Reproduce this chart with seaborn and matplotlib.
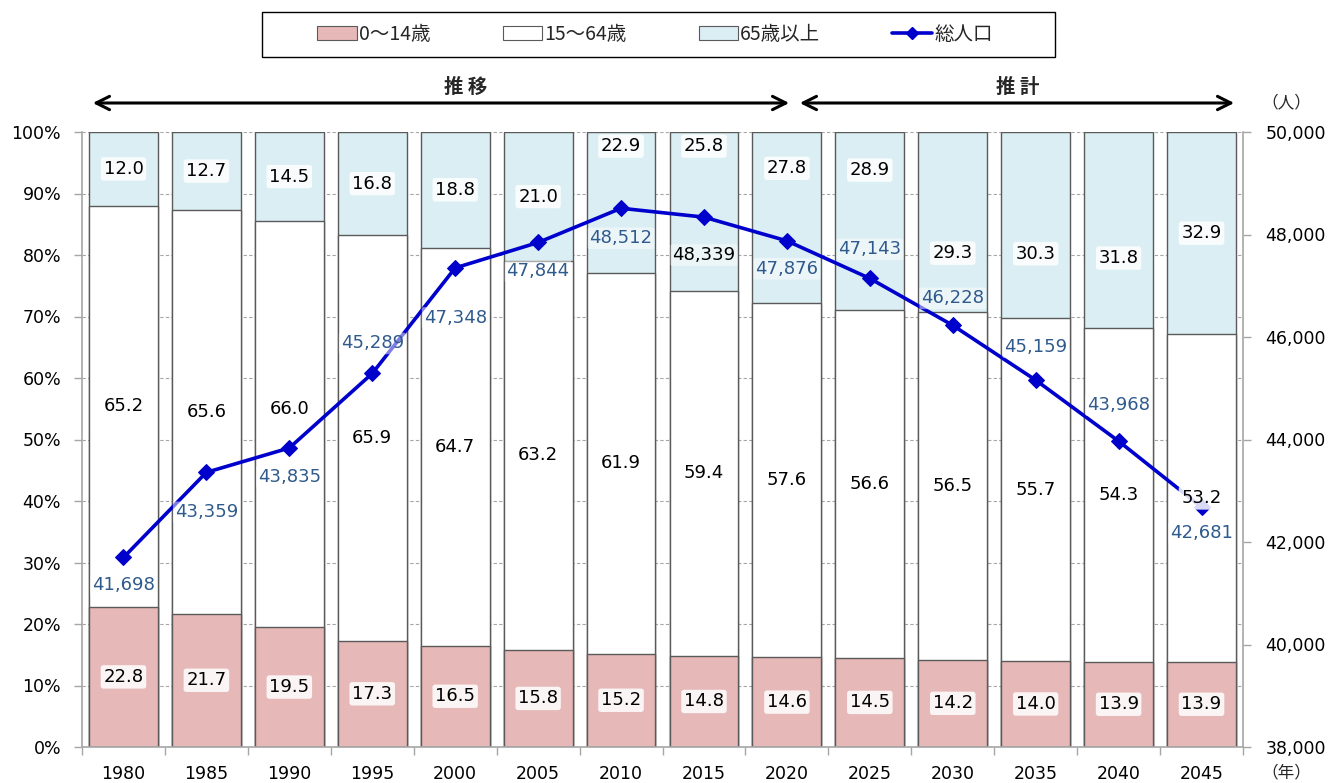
import numpy as np
import pandas as pd
import matplotlib
matplotlib.use("Agg")
import matplotlib.pyplot as plt
import seaborn as sns
from matplotlib.patches import Patch, Rectangle, FancyArrowPatch
from matplotlib.lines import Line2D

# ---- data -------------------------------------------------------------
years = ["1980", "1985", "1990", "1995", "2000", "2005", "2010",
         "2015", "2020", "2025", "2030", "2035", "2040", "2045"]
age_0_14 = [22.8, 21.7, 19.5, 17.3, 16.5, 15.8, 15.2, 14.8, 14.6, 14.5, 14.2, 14.0, 13.9, 13.9]
age_15_64 = [65.2, 65.6, 66.0, 65.9, 64.7, 63.2, 61.9, 59.4, 57.6, 56.6, 56.5, 55.7, 54.3, 53.2]
age_65_over = [12.0, 12.7, 14.5, 16.8, 18.8, 21.0, 22.9, 25.8, 27.8, 28.9, 29.3, 30.3, 31.8, 32.9]
total_pop = [41698, 43359, 43835, 45289, 47348, 47844, 48512, 48339,
             47876, 47143, 46228, 45159, 43968, 42681]
series_names = ["0～14歳", "15～64歳", "65歳以上", "総人口"]

# label placement tweaks: vertical offsets (pixels) of population labels,
# and hand-placed heights (%) for segment labels that would collide with the line
pop_label_dy = [-28, -40, -29, 30, -50, -29, -30, -38, -28, 29, 27, 33, 36, -26]
work_label_y = [None, None, 54.9, None, None, None, None, None, None, None, None, None, None, None]
old_label_y = [None, None, None, None, None, None, 97.7, 97.7, 94.1, 93.8, 80.3, 80.2, 79.5, None]

# ---- styling ----------------------------------------------------------
sns.set_theme(style="white")
plt.rcParams["font.family"] = ["DejaVu Sans", "Noto Sans CJK JP"]
JP = ["Noto Sans CJK JP", "DejaVu Sans"]

c_young = "#E6B8B7"
c_work = "#FFFFFF"
c_old = "#DAEEF3"
c_line = "#0000CC"
c_poplabel = "#2F5A8C"
c_axis = "#A6A6A6"
edge = "#5A5A5A"

df = pd.DataFrame({
    "year": years,
    "young": age_0_14,
    "work": age_15_64,
    "old": age_65_over,
})
df["top_young"] = df["young"]
df["top_work"] = df["young"] + df["work"]
df["top_all"] = df["young"] + df["work"] + df["old"]

W, H = 1343, 783
fig = plt.figure(figsize=(W / 100, H / 100), dpi=100)
ax = fig.add_axes([82 / W, 1 - 747 / H, (1243 - 82) / W, (747 - 132) / H])

# stacked 100% bars: draw cumulative heights from the tallest down
for col, colr in [("top_all", c_old), ("top_work", c_work), ("top_young", c_young)]:
    sns.barplot(data=df, x="year", y=col, color=colr, saturation=1,
                width=0.83, edgecolor=edge, linewidth=1.0,
                errorbar=None, ax=ax)

n = len(years)
ax.set_xlim(-0.5, n - 0.5)
ax.set_ylim(0, 100)
ax.set_xlabel("")
ax.set_ylabel("")
ax.set_yticks(np.arange(0, 101, 10))
ax.set_yticklabels([f"{v}%" for v in range(0, 101, 10)])
ax.yaxis.grid(True, linestyle=(0, (3, 2)), color=c_axis, linewidth=0.8)
ax.set_axisbelow(True)
ax.set_xticks(np.arange(n))
ax.set_xticklabels(years)
ax.set_xticks(np.arange(n + 1) - 0.5, minor=True)
ax.tick_params(axis="x", which="major", length=0, pad=13, labelsize=12.5, colors="black")
ax.tick_params(axis="x", which="minor", length=6, width=1, color=c_axis, direction="out", bottom=True)
ax.tick_params(axis="y", length=6, width=1, color=c_axis, direction="out", pad=9,
               labelsize=12.5, left=True, labelcolor="black")
for s in ["top", "right"]:
    ax.spines[s].set_visible(False)
for s in ["left", "bottom"]:
    ax.spines[s].set_color(c_axis)
    ax.spines[s].set_linewidth(1.2)

# total population line on the secondary axis
ax2 = ax.twinx()
xpos = np.arange(n)
sns.lineplot(x=xpos, y=total_pop, ax=ax2, color=c_line, linewidth=2.6,
             marker="D", markersize=8, markeredgecolor=c_line, zorder=3)
ax2.set_xlim(-0.5, n - 0.5)
ax2.set_ylim(38000, 50000)
ax2.set_yticks(np.arange(38000, 50001, 2000))
ax2.set_yticklabels([f"{v:,}" for v in range(38000, 50001, 2000)])
ax2.tick_params(axis="y", length=6, width=1, color=c_axis, direction="out", pad=10,
                labelsize=12.5, right=True, labelcolor="black")
ax2.set_ylabel("")
for s in ["top", "left", "bottom"]:
    ax2.spines[s].set_visible(False)
ax2.spines["right"].set_color(c_axis)
ax2.spines["right"].set_linewidth(1.2)

# segment value labels (drawn above the line)
glow = dict(boxstyle="round,pad=0.15", facecolor="white", edgecolor="none", alpha=0.85)
for i in range(n):
    y0 = df["young"][i]
    y1 = df["top_work"][i]
    y2 = df["top_all"][i]
    mids = [y0 / 2,
            work_label_y[i] if work_label_y[i] is not None else (y0 + y1) / 2,
            old_label_y[i] if old_label_y[i] is not None else (y1 + y2) / 2]
    vals = [df["young"][i], df["work"][i], df["old"][i]]
    for val, mid in zip(vals, mids):
        ax2.text(i, mid, f"{val:.1f}", transform=ax.transData, ha="center", va="center",
                 fontsize=13, color="black", bbox=glow, zorder=5)

# population labels
for i, (v, dy) in enumerate(zip(total_pop, pop_label_dy)):
    col = "black" if years[i] == "2015" else c_poplabel
    ax2.annotate(f"{v:,}", xy=(i, v), xytext=(0, dy), textcoords="offset pixels",
                 ha="center", va="center", fontsize=13, color=col, zorder=6,
                 bbox=dict(boxstyle="round,pad=0.1", facecolor="white", edgecolor="none", alpha=0.5))

# legend with a plain rectangular frame
handles = [
    Patch(facecolor=c_young, edgecolor=edge, linewidth=0.8),
    Patch(facecolor=c_work, edgecolor=edge, linewidth=0.8),
    Patch(facecolor=c_old, edgecolor=edge, linewidth=0.8),
    Line2D([0], [0], color=c_line, linewidth=2.6, marker="D", markersize=6),
]
fig.legend(handles, series_names, loc="center", bbox_to_anchor=(655 / W, 1 - 34 / H),
           ncol=4, frameon=False, prop={"family": JP, "size": 14},
           handlelength=2.05, handleheight=0.7, handletextpad=0.1,
           columnspacing=3.7, borderpad=0)
fig.add_artist(Rectangle((262 / W, 1 - 57 / H), 793 / W, 45 / H, transform=fig.transFigure,
                         facecolor="none", edgecolor="black", linewidth=1.0))

# period arrows
arrow_y = 1 - 103 / H
for x0, x1 in [(90, 792), (797, 1237)]:
    fig.add_artist(FancyArrowPatch(
        (x0 / W, arrow_y), (x1 / W, arrow_y), transform=fig.transFigure,
        arrowstyle="<->", mutation_scale=24, linewidth=2.2, color="black"))
fig.text(466 / W, 1 - 87 / H, "推 移", ha="center", va="center", fontsize=14,
         fontweight="bold", family=JP)
fig.text(1018 / W, 1 - 87 / H, "推 計", ha="center", va="center", fontsize=14,
         fontweight="bold", family=JP)
fig.text(1286 / W, 1 - 103 / H, "（人）", ha="center", va="center", fontsize=12, family=JP)
fig.text(1286 / W, 1 - 773 / H, "（年）", ha="center", va="center", fontsize=12, family=JP)

fig.savefig("out.png", dpi=100)
